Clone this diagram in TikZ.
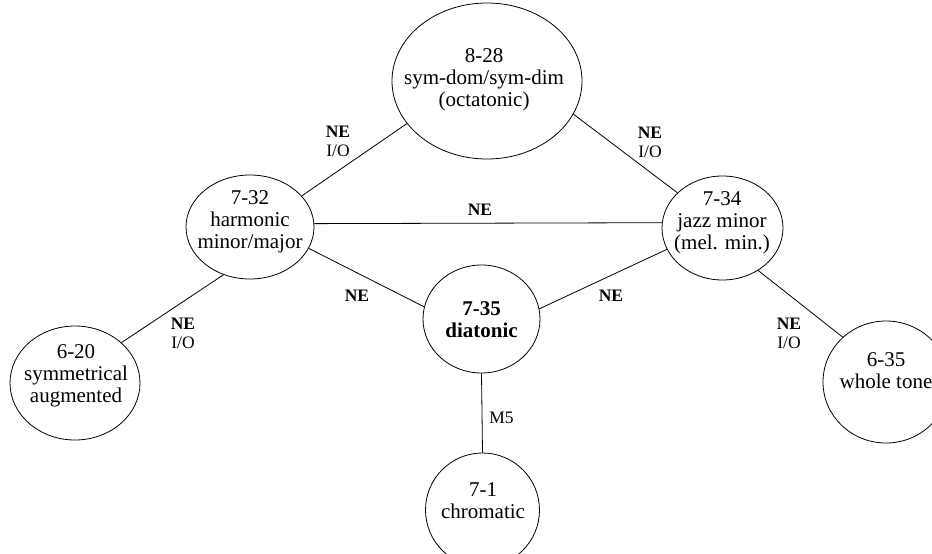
\documentclass[tikz,border=0pt]{standalone}
\usepackage{fontspec}
\setmainfont{Liberation Serif}
\usetikzlibrary{shapes.geometric}
\tikzset{
  ell/.style={draw, ellipse, inner sep=0pt, line width=0.8pt},
  main/.style={align=center, inner sep=0pt, font=\fontsize{21}{22}\selectfont},
  lab/.style={align=center, inner sep=0pt, font=\fontsize{17.5}{19}\selectfont},
  conn/.style={draw, line width=0.8pt}
}
\begin{document}
\begin{tikzpicture}[x=1pt,y=-1pt]
\useasboundingbox (0,0) rectangle (932,554);
\clip (0,0) rectangle (932,554);
% ellipses
\node[ell, minimum width=190pt, minimum height=156pt] (A) at (487,81) {};
\node[ell, minimum width=128pt, minimum height=104pt] (H) at (250,227) {};
\node[ell, minimum width=121pt, minimum height=104pt] (J) at (722.5,228) {};
\node[ell, minimum width=130pt, minimum height=114pt] (S) at (75,383) {};
\node[ell, minimum width=126pt, minimum height=122pt] (W) at (886,382) {};
\node[ell, minimum width=117pt, minimum height=108pt] (D) at (481.5,319) {};
\node[ell, minimum width=114pt, minimum height=114pt] (C) at (482.5,510) {};
% texts
\node[main] (At) at (484,80) {8-28\\sym-dom/sym-dim\\(octatonic)};
\node[main] (Ht) at (250,222) {7-32\\harmonic\\minor/major};
\node[main] (Jt) at (722,223) {7-34\\jazz minor\\(mel. min.)};
\node[main] (St) at (76,376) {6-20\\symmetrical\\augmented};
\node[main] (Wt) at (886,371) {6-35\\whole tone};
\node[main, font=\fontsize{21}{22}\selectfont\bfseries] (Dt) at (481.5,320) {7-35\\diatonic};
\node[main] (Ct) at (483,501) {7-1\\chromatic};
% connectors
\draw[conn] (A.208.8) -- (H.31.6);
\draw[conn] (A.-21.8) -- (J.142.4);
\draw[conn] (H.3.6) -- (J.175.3);
\draw[conn] (H.-20.4) -- (D.168.2);
\draw[conn] (J.201.6) -- (D.10.8);
\draw[conn] (H.241.6) -- (S.41.9);
\draw[conn] (J.-50.2) -- (W.134.3);
\draw[conn] (D.south) -- (C.north);
% labels
\node[lab] (l1) at (338,141) {\textbf{NE}\\I/O};
\node[lab] (l2) at (650,142) {\textbf{NE}\\I/O};
\node[lab] (l3) at (480,210) {\textbf{NE}};
\node[lab] (l4) at (357,296) {\textbf{NE}};
\node[lab] (l5) at (611,296) {\textbf{NE}};
\node[lab] (l6) at (183,333) {\textbf{NE}\\I/O};
\node[lab] (l7) at (789,333) {\textbf{NE}\\I/O};
\node[lab] (l8) at (501.5,418) {M5};
\end{tikzpicture}
\end{document}
